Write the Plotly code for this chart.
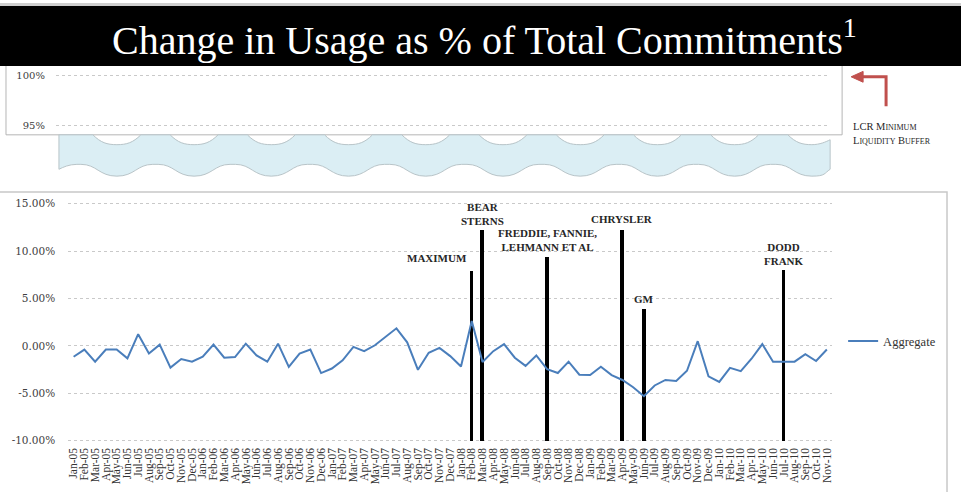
import plotly.graph_objects as go

W, H = 961, 492

# ---------------- data ----------------
month_names = ["Jan", "Feb", "Mar", "Apr", "May", "Jun", "Jul", "Aug", "Sep", "Oct", "Nov", "Dec"]
years = ["05", "06", "07", "08", "09", "10"]
months = [f"{m}-{y}" for y in years for m in month_names][:71]  # Jan-05 .. Nov-10

aggregate = [
    -1.14, -0.38, -1.66, -0.38, -0.38, -1.31, 1.24, -0.80, 0.14, -2.28, -1.38, -1.66,
    -1.14, 0.14, -1.24, -1.17, 0.24, -1.00, -1.66, 0.24, -2.20, -0.80, -0.38, -2.86,
    -2.38, -1.52, -0.10, -0.55, 0.07, 0.93, 1.86, 0.38, -2.52, -0.72, -0.21, -1.07,
    -2.17, 2.62, -1.69, -0.55, 0.20, -1.24, -2.10, -1.00, -2.45, -2.86, -1.66, -3.04,
    -3.07, -2.20, -3.07, -3.59, -4.35, -5.30, -4.17, -3.59, -3.69, -2.62, 0.50, -3.21,
    -3.80, -2.31, -2.66, -1.35, 0.20, -1.66, -1.66, -1.66, -0.86, -1.59, -0.38,
]

event_months = ["Feb-08", "Mar-08", "Sep-08", "Apr-09", "Jun-09", "Jul-10"]
event_tops = [7.9, 12.3, 9.45, 12.3, 3.9, 8.05]
event_base = -10
event_labels = ["MAXIMUM", "BEAR<br>STERNS", "FREDDIE, FANNIE,<br>LEHMANN ET AL", "CHRYSLER", "GM", "DODD<br>FRANK"]
event_label_y = [9.3, 13.95, 11.2, 13.35, 4.95, 9.75]

y_ticks = [-10, -5, 0, 5, 10, 15]
y_tick_text = ["-10.00%", "-5.00%", "0.00%", "5.00%", "10.00%", "15.00%"]
top_ticks = [95, 100]
top_tick_text = ["95%", "100%"]

# ---------------- helpers ----------------
def px(x):
    return x / W

def py(y):
    return 1 - y / H

SERIF = "Liberation Serif"
WIDE_SERIF = "DejaVu Serif"
LINE = "#4a7ebb"

fig = go.Figure()

fig.add_trace(go.Scatter(
    x=months, y=aggregate, mode="lines", name="Aggregate",
    line=dict(color=LINE, width=2),
))
fig.add_trace(go.Bar(
    x=event_months, y=[t - event_base for t in event_tops], base=event_base,
    width=0.35, marker=dict(color="#000000", line=dict(width=0)),
    showlegend=False, hoverinfo="skip",
))
fig.add_trace(go.Scatter(x=[], y=[], xaxis="x2", yaxis="y2", showlegend=False))

shapes = []
# top panel (white box)
shapes.append(dict(type="rect", xref="paper", yref="paper", layer="below",
                   x0=px(5), x1=px(842), y0=py(133), y1=py(50),
                   line=dict(color="#b5b5b5", width=1), fillcolor="white"))
# lower chart frame
shapes.append(dict(type="rect", xref="paper", yref="paper", layer="below",
                   x0=px(-3), x1=px(947), y0=py(500), y1=py(191),
                   line=dict(color="#c8c8c8", width=1.5), fillcolor="rgba(0,0,0,0)"))
# thin grey top edge + black title bar
shapes.append(dict(type="rect", xref="paper", yref="paper", layer="below",
                   x0=px(-2), x1=px(963), y0=py(2), y1=py(-1),
                   line=dict(width=0), fillcolor="#cfcfcf"))
shapes.append(dict(type="rect", xref="paper", yref="paper", layer="below",
                   x0=px(-2), x1=px(963), y0=py(63), y1=py(2),
                   line=dict(width=0), fillcolor="#000000"))

# wavy band
centers = [116 + 77.3 * k for k in range(10)]
d = f"M {px(58)},{py(133)} "
for c in centers:
    d += f"L {px(c-24)},{py(133)} "
    d += f"C {px(c-16)},{py(141)} {px(c-10)},{py(143)} {px(c)},{py(143)} "
    if c + 24 < 830:
        d += f"C {px(c+10)},{py(143)} {px(c+16)},{py(141)} {px(c+24)},{py(133)} "
    else:
        d += f"C {px(c+8)},{py(143)} {px(826)},{py(140)} {px(830)},{py(138)} "
d += f"L {px(830)},{py(168)} "
for c in reversed(centers):
    if c + 36 > 830:
        d += f"C {px(824)},{py(172)} {px(c+14)},{py(175)} {px(c)},{py(175)} "
        d += f"C {px(c-18)},{py(175)} {px(c-20)},{py(163)} {px(c-36)},{py(163)} "
    else:
        d += f"L {px(c+36)},{py(163)} "
        d += f"C {px(c+20)},{py(163)} {px(c+18)},{py(175)} {px(c)},{py(175)} "
        d += f"C {px(c-18)},{py(175)} {px(c-20)},{py(163)} {px(c-36)},{py(163)} "
d += f"L {px(76)},{py(163)} C {px(68)},{py(163)} {px(62)},{py(166)} {px(58)},{py(168)} Z"
shapes.append(dict(type="path", xref="paper", yref="paper", layer="below", path=d,
                   fillcolor="#dbeef4", line=dict(color="#b8c4c8", width=1)))

# red arrow
shapes.append(dict(type="path", xref="paper", yref="paper", layer="above",
                   path=f"M {px(886)},{py(104)} L {px(886)},{py(74)} L {px(861)},{py(74)}",
                   line=dict(color="#c0504d", width=3)))
shapes.append(dict(type="path", xref="paper", yref="paper", layer="above",
                   path=f"M {px(851)},{py(74)} L {px(863)},{py(68.5)} L {px(863)},{py(79.5)} Z",
                   fillcolor="#c0504d", line=dict(color="#c0504d", width=1)))

annotations = []
annotations.append(dict(
    xref="paper", yref="paper", x=px(484), y=py(34), xanchor="center", yanchor="middle",
    text="Change in Usage as % of Total Commitments<sup>1</sup>", showarrow=False,
    font=dict(family=SERIF, size=40, color="white"),
))
sc = "font-size:8px"
annotations.append(dict(
    xref="paper", yref="paper", x=px(851), y=py(132), xanchor="left", yanchor="middle",
    align="left", showarrow=False,
    text=(f"LCR M<span style='{sc}'>INIMUM</span><br>"
          f"L<span style='{sc}'>IQUIDITY</span> B<span style='{sc}'>UFFER</span>"),
    font=dict(family=SERIF, size=10.5, color="#1f1f1f"),
))
for m, lab, ly in zip(event_months, event_labels, event_label_y):
    ann = dict(xref="x", yref="y", x=m, y=ly, text=f"<b>{lab}</b>", showarrow=False,
               xanchor="center", yanchor="middle",
               font=dict(family=SERIF, size=11, color="#262626"))
    if lab == "MAXIMUM":
        ann.update(xanchor="right", xshift=-3)
    annotations.append(ann)

fig.update_layout(
    width=W, height=H,
    margin=dict(l=0, r=0, t=0, b=0),
    paper_bgcolor="white", plot_bgcolor="rgba(0,0,0,0)",
    shapes=shapes, annotations=annotations,
    showlegend=True,
    legend=dict(x=px(843), y=py(343), xanchor="left", yanchor="middle",
                bgcolor="rgba(0,0,0,0)",
                font=dict(family=SERIF, size=12.5, color="#333333")),
    xaxis=dict(domain=[px(67.3), px(832.1)], type="category", range=[-0.5, 70.5],
               categoryorder="array", categoryarray=months,
               tickmode="array", tickvals=months, ticktext=months,
               tickangle=-90, showgrid=False, zeroline=False, showline=False, ticks="",
               tickfont=dict(family=SERIF, size=11.5, color="#333333"),
               ticklabelstandoff=2, anchor="y"),
    yaxis=dict(domain=[py(445.9), py(201.1)], range=[-10.2, 15.2],
               tickmode="array", tickvals=y_ticks, ticktext=y_tick_text,
               showgrid=True, gridcolor="#c9c9c9", griddash="dot", gridwidth=1,
               zeroline=False, showline=False, ticks="",
               tickfont=dict(family=WIDE_SERIF, size=10.5, color="#404040"),
               ticklabelstandoff=12, anchor="x"),
    xaxis2=dict(domain=[px(55), px(827)], range=[0, 1], visible=False, anchor="y2"),
    yaxis2=dict(domain=[py(130), py(66)], range=[94.356, 100.693],
                tickmode="array", tickvals=top_ticks, ticktext=top_tick_text,
                showgrid=True, gridcolor="#c9c9c9", griddash="dot", gridwidth=1,
                zeroline=False, showline=False, ticks="",
                tickfont=dict(family=WIDE_SERIF, size=10, color="#404040"),
                ticklabelstandoff=10, anchor="x2"),
    bargap=0,
)

fig.write_html("out.html")
